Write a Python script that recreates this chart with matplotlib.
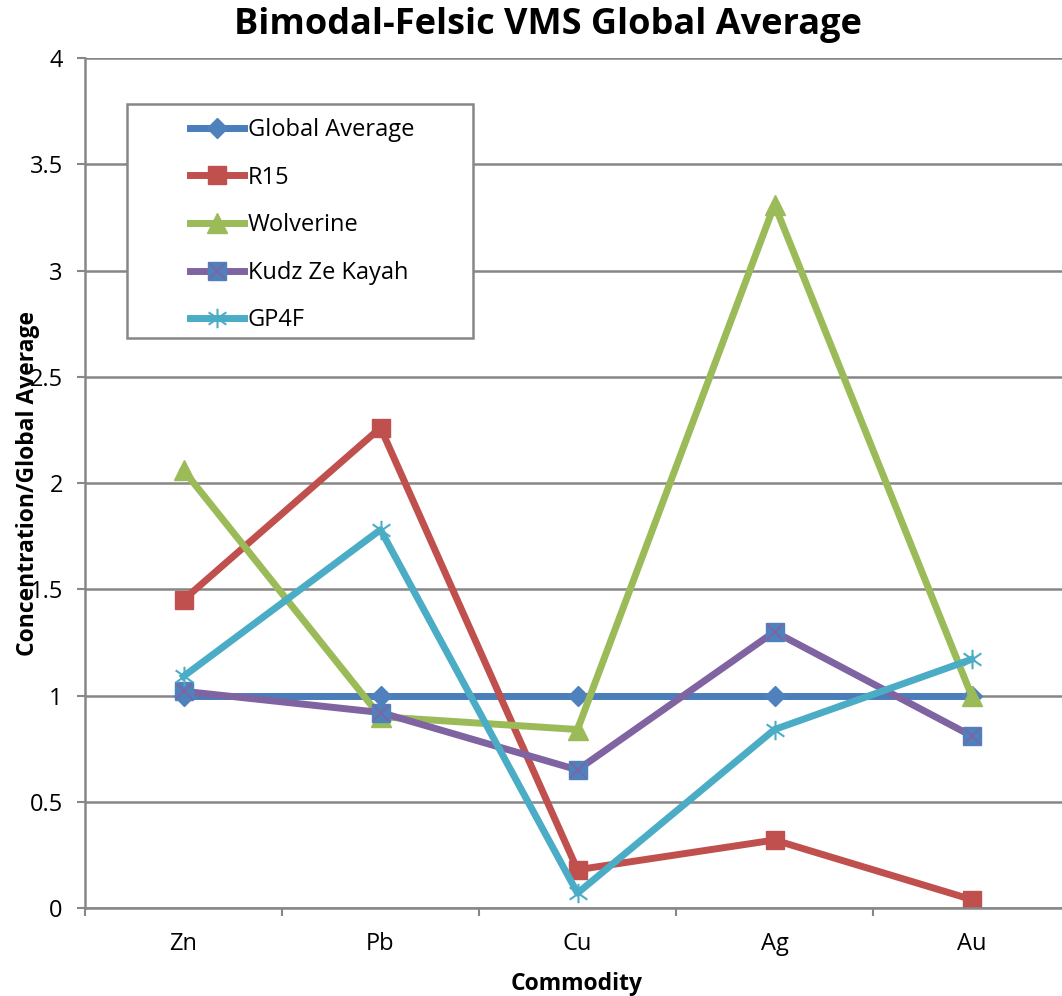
import matplotlib
matplotlib.use("Agg")
import matplotlib.pyplot as plt
from matplotlib.path import Path
from matplotlib.patches import Rectangle

plt.rcParams["font.family"] = ["Open Sans", "DejaVu Sans"]

categories = ["Zn", "Pb", "Cu", "Ag", "Au"]
global_avg = [1.0, 1.0, 1.0, 1.0, 1.0]
r15 = [1.45, 2.26, 0.18, 0.32, 0.04]
wolverine = [2.06, 0.90, 0.84, 3.31, 1.00]
kudz = [1.02, 0.92, 0.65, 1.30, 0.81]
gp4f = [1.09, 1.78, 0.07, 0.84, 1.17]
y_ticks = [0, 0.5, 1, 1.5, 2, 2.5, 3, 3.5, 4]

W, H = 1062, 996
fig = plt.figure(figsize=(W / 100, H / 100), dpi=100)
# plot area runs a little past the right edge of the figure
ax = fig.add_axes([85 / W, (H - 908) / H, (1070 - 85) / W, (908 - 58) / H])

# asterisk marker: vertical bar plus an x
star = Path([(0, -1.1), (0, 1.1), (-1, -0.7), (1, 0.7), (-1, 0.7), (1, -0.7)],
            [Path.MOVETO, Path.LINETO, Path.MOVETO, Path.LINETO, Path.MOVETO, Path.LINETO])

x = range(len(categories))
lw = 5
handles = []

h = ax.plot(x, global_avg, color="#4A7EBB", lw=lw, marker="D", ms=10,
            mfc="#4F81BD", mec="#4F81BD", label="Global Average")[0]
handles.append(h)
h = ax.plot(x, r15, color="#C0504D", lw=lw, marker="s", ms=13,
            mfc="#C0504D", mec="#C0504D", label="R15")[0]
handles.append(h)
h = ax.plot(x, wolverine, color="#9BBB59", lw=lw, marker="^", ms=15,
            mfc="#9BBB59", mec="#9BBB59", label="Wolverine")[0]
handles.append(h)
h1 = ax.plot(x, kudz, color="#8064A2", lw=lw, marker="s", ms=13,
             mfc="#4F81BD", mec="#4F81BD")[0]
h2 = ax.plot(x, kudz, ls="none", marker="x", ms=12, mew=1.3, mec="#8064A2")[0]
handles.append((h1, h2))
h = ax.plot(x, gp4f, color="#4BACC6", lw=lw, marker=star, ms=14, mew=1.5,
            mec="#4BACC6", label="GP4F")[0]
handles.append(h)

ax.set_xlim(-0.5, len(categories) - 0.5)
ax.set_ylim(0, 4)
ax.set_yticks(y_ticks)
ax.set_yticklabels([f"{v:g}" for v in y_ticks])
ax.set_xticks(list(x))
ax.set_xticklabels(categories)
ax.set_xticks([i - 0.5 for i in range(len(categories) + 1)], minor=True)

grid_c = "#878787"
ax.yaxis.grid(True, color=grid_c, lw=1.8)
ax.set_axisbelow(True)
for s in ["top", "right"]:
    ax.spines[s].set_visible(False)
for s in ["left", "bottom"]:
    ax.spines[s].set_color(grid_c)
    ax.spines[s].set_linewidth(1.8)

ax.tick_params(axis="y", length=6, width=1.5, color=grid_c, pad=10, labelsize=17)
ax.tick_params(axis="x", which="major", length=0, pad=17, labelsize=17)
ax.tick_params(axis="x", which="minor", length=6, width=1.5, color=grid_c)

fig.text(548 / W, 1 - 25 / H, "Bimodal-Felsic VMS Global Average", ha="center",
         va="center", fontsize=26, fontweight="bold")
fig.text(577 / W, 1 - 984 / H, "Commodity", ha="center", va="center",
         fontsize=16.5, fontweight="bold")
fig.text(28 / W, 1 - 483 / H, "Concentration/Global Average", ha="center",
         va="center", rotation=90, fontsize=16.5, fontweight="bold")

# legend box
fig.patches.append(Rectangle((127 / W, 1 - 338 / H), (473 - 127) / W, (338 - 104) / H,
                             transform=fig.transFigure, fill=True, fc="white",
                             ec=grid_c, lw=1.8, zorder=2))
labels = ["Global Average", "R15", "Wolverine", "Kudz Ze Kayah", "GP4F"]
fig.legend(handles, labels, loc="upper left", bbox_to_anchor=(190 / W, 1 - 118 / H),
           frameon=False, fontsize=17, handlelength=2.3, handletextpad=0.15,
           labelspacing=1.0, borderaxespad=0, borderpad=0)

fig.savefig("out.png", dpi=100)
